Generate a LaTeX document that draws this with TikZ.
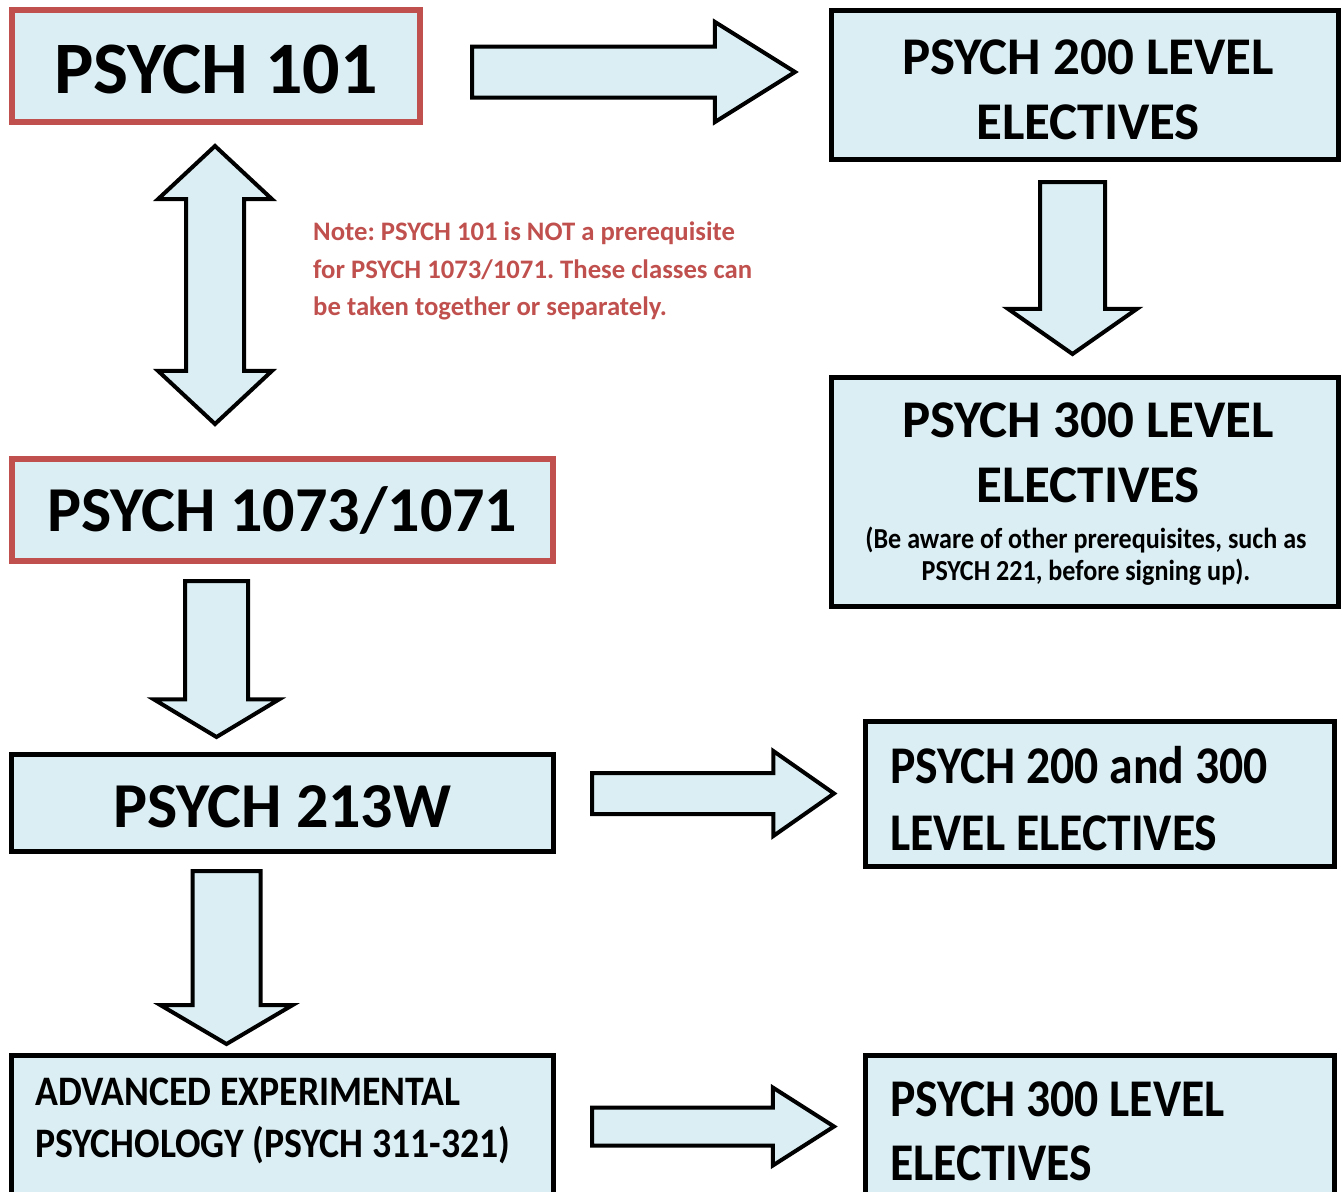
\documentclass[tikz,border=0pt]{standalone}
\usepackage{fontspec}
\setmainfont{Carlito}
\newfontfamily\narrowfont[FakeStretch=0.9]{Carlito}
\usetikzlibrary{shapes.arrows}
\definecolor{boxfill}{HTML}{DAEEF3}
\definecolor{notered}{HTML}{C0504D}
\frenchspacing
\tikzset{
  course/.style={draw=black, line width=5, fill=boxfill, inner sep=0, font=\bfseries},
  firstyear/.style={course, draw=notered, line width=6},
  boxtext/.style={inner sep=0, font=\bfseries},
  flowarrow/.style={shape=single arrow, draw=black, line width=4, fill=boxfill,
    single arrow head indent=0, anchor=tail},
  downarrow/.style={flowarrow, shape border rotate=270},
}
\begin{document}
\begin{tikzpicture}[x=1pt, y=-1pt]
  \clip (0,0) rectangle (1343,1191);
  \useasboundingbox (0,0) rectangle (1343,1191);

  % course boxes
  \node[firstyear, minimum width=408, minimum height=112, text height=55, text depth=0,
    font=\bfseries\fontsize{74}{88}\selectfont] (psych101) at (216,66) {PSYCH 101};
  \node[firstyear, minimum width=541, minimum height=102, text height=42.5, text depth=0,
    font=\bfseries\fontsize{64}{76}\selectfont] (psych1073) at (282.5,510) {PSYCH 1073/1071};
  \node[course, minimum width=542, minimum height=97, text height=48.5, text depth=0,
    font=\bfseries\fontsize{64}{76}\selectfont] (psych213) at (282.5,803) {PSYCH 213W};
  \node[course, minimum width=507, minimum height=149] (level200) at (1085,85) {};
  \node[course, minimum width=507, minimum height=229] (level300) at (1085,492) {};
  \node[course, minimum width=469, minimum height=145] (level200300) at (1100,794) {};
  \node[course, minimum width=542, minimum height=160] (advexp) at (282.5,1135) {};
  \node[course, minimum width=469, minimum height=160] (level300b) at (1100,1135) {};

  % box texts
  \node[boxtext, anchor=north, align=center, font=\bfseries\fontsize{53}{65}\selectfont]
    (level200text) at (1088,40) {PSYCH 200 LEVEL\\ELECTIVES};
  \node[boxtext, anchor=north, align=center, font=\bfseries\fontsize{53}{65}\selectfont]
    (level300text) at (1088,403) {PSYCH 300 LEVEL\\ELECTIVES};
  \node[boxtext, anchor=north, align=center, font=\narrowfont\bfseries\fontsize{29}{32}\selectfont]
    (level300warn) at (1086,527) {(Be aware of other prerequisites, such as\\PSYCH 221, before signing up).};
  \node[boxtext, anchor=north west, align=left, font=\narrowfont\bfseries\fontsize{53}{67}\selectfont]
    (level200300text) at (890,746) {PSYCH 200 and 300\\LEVEL ELECTIVES};
  \node[boxtext, anchor=north west, align=left, font=\narrowfont\bfseries\fontsize{42}{52}\selectfont]
    (advexptext) at (35,1078) {ADVANCED EXPERIMENTAL\\PSYCHOLOGY (PSYCH 311-321)};
  \node[boxtext, anchor=north west, align=left, font=\narrowfont\bfseries\fontsize{53}{64}\selectfont]
    (level300btext) at (890,1082) {PSYCH 300 LEVEL\\ELECTIVES};

  % note
  \node[boxtext, anchor=north west, align=left, text=notered, font=\bfseries\fontsize{26.7}{37.5}\selectfont]
    (note) at (313,222) {Note: PSYCH 101 is NOT a prerequisite\\for PSYCH 1073/1071. These classes can\\be taken together or separately.};

  % block arrows
  \node[flowarrow, minimum height=323, inner sep=23.5, single arrow head extend=24.5,
    single arrow tip angle=64] (to200) at (470,72) {};
  \node[downarrow, minimum height=172, inner sep=30.5, single arrow head extend=32,
    single arrow tip angle=110] (to300) at (1072.5,180) {};
  \node[shape=double arrow, draw=black, line width=4, fill=boxfill, double arrow head indent=0,
    minimum height=278, inner sep=27, double arrow head extend=28, double arrow tip angle=94,
    shape border rotate=90] (either) at (215,285) {};
  \node[downarrow, minimum height=156, inner sep=29.5, single arrow head extend=31,
    single arrow tip angle=118] (to213) at (216.5,579) {};
  \node[flowarrow, minimum height=242, inner sep=18.5, single arrow head extend=22,
    single arrow tip angle=70] (to200300) at (590,793.5) {};
  \node[downarrow, minimum height=173, inner sep=32, single arrow head extend=32,
    single arrow tip angle=119] (toadv) at (226.5,869) {};
  \node[flowarrow, minimum height=242, inner sep=17, single arrow head extend=20,
    single arrow tip angle=65] (to300b) at (590,1126.5) {};
\end{tikzpicture}
\end{document}
